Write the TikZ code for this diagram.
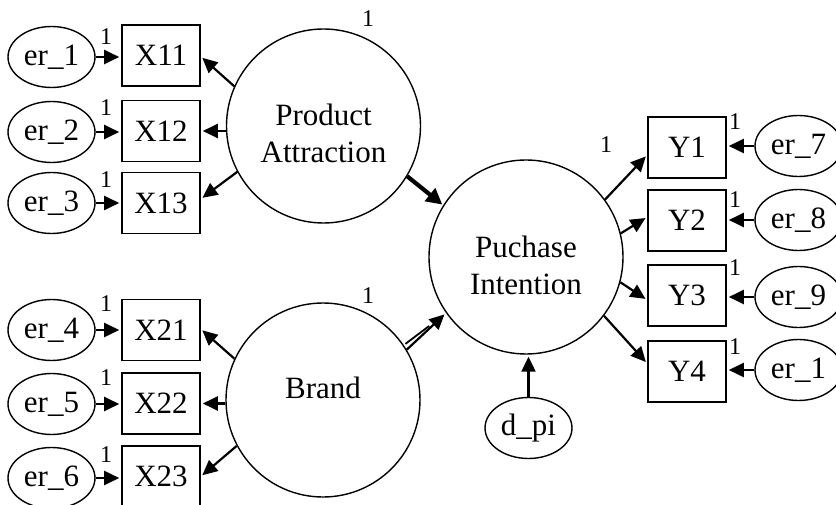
\documentclass[tikz,border=0pt]{standalone}
\usepackage{fontspec}
\setmainfont{Liberation Serif}
\usetikzlibrary{arrows.meta,calc,shapes.geometric}
\tikzset{
  obs/.style={draw,line width=1.6pt,minimum width=78pt,minimum height=61pt,inner sep=0pt,font=\fontsize{31}{37}\selectfont},
  err/.style={draw,ellipse,line width=1.4pt,minimum width=87pt,minimum height=61pt,inner sep=0pt,font=\fontsize{31}{37}\selectfont},
  lat/.style={draw,circle,line width=1.4pt,minimum size=194pt,inner sep=0pt},
  lattext/.style={inner sep=0pt,align=center,font=\fontsize{31}{37}\selectfont},
  one/.style={inner sep=0pt,font=\fontsize{24}{24}\selectfont},
  arr/.style={line width=2.2pt,-{Triangle[length=15pt,width=14pt]},shorten >=2pt},
  thick arr/.style={line width=4.2pt,-{Triangle[length=16pt,width=16pt]},shorten >=1pt},
}
\begin{document}
\begin{tikzpicture}[x=1pt,y=-1pt]
\useasboundingbox (0,0) rectangle (836,505);
% latent variables
\node[lat] (PA) at (323.5,126) {};
\node[lattext] (PAt) at ($(PA)+(0,7)$) {Product\\Attraction};
\node[lat] (BR) at (323,400) {};
\node[lattext] (BRt) at ($(BR)+(0,-12)$) {Brand};
\node[lat] (PI) at (526,257) {};
\node[lattext] (PIt) at ($(PI)+(0,8)$) {Puchase\\Intention};
% indicators left
\node[obs] (X11) at (161,55.5) {X11};
\node[obs] (X12) at (161,131) {X12};
\node[obs] (X13) at (161,203) {X13};
\node[obs] (X21) at (161,330) {X21};
\node[obs] (X22) at (161,403.5) {X22};
\node[obs] (X23) at (161,476.5) {X23};
\node[err] (e1) at (51.5,57) {er\_1};
\node[err] (e2) at (51.5,132) {er\_2};
\node[err] (e3) at (51.5,203) {er\_3};
\node[err] (e4) at (51.5,330) {er\_4};
\node[err] (e5) at (51.5,404) {er\_5};
\node[err] (e6) at (51.5,478) {er\_6};
% indicators right
\node[obs] (Y1) at (687,147.5) {Y1};
\node[obs] (Y2) at (687,220.5) {Y2};
\node[obs] (Y3) at (687,295.5) {Y3};
\node[obs] (Y4) at (687,371.5) {Y4};
\node[err] (e7) at (798.5,146) {er\_7};
\node[err] (e8) at (798.5,220) {er\_8};
\node[err] (e9) at (798.5,297) {er\_9};
\node[err] (e10) at (798.5,370) {er\_1};
\node[err] (dpi) at (528.5,428) {d\_pi};
% error arrows left
\foreach \e/\x in {e1/X11,e2/X12,e3/X13,e4/X21,e5/X22,e6/X23}
  \draw[arr] (\e.east) -- (\e.east -| \x.west);
% error arrows right
\foreach \e/\y in {e7/Y1,e8/Y2,e9/Y3,e10/Y4}
  \draw[arr] (\e.west) -- (\e.west -| \y.east);
% loadings
\draw[arr] (PA.156) -- ($(X11.east)+(0,1)$);
\draw[arr] (X12.east -| PA.west) -- (X12.east);
\draw[arr] (PA.208) -- ($(X13.east)+(0,-4)$);
\draw[arr] (BR.155) -- ($(X21.east)+(0,-1)$);
\draw[arr] (X22.east -| BR.west) -- (X22.east);
\draw[arr] (BR.208) -- ($(X23.east)+(0,0)$);
\draw[arr] (PI.36) -- ($(Y1.west)+(0,7.5)$);
\draw[arr] (PI.14) -- ($(Y2.west)+(0,-3.5)$);
\draw[arr] (PI.-15) -- ($(Y3.west)+(0,4.5)$);
\draw[arr] (PI.-37) -- ($(Y4.west)+(0,-8)$);
% structural paths
\draw[thick arr] (PA.-31) -- (PI.148);
\coordinate (bt) at (PI.215);
\draw[line width=1.8pt] ($(BR.34)+(1.5,-1.5)$) -- ($(BR.34)!0.6!(bt)$);
\draw[arr] (BR.31) -- (bt);
\draw[arr] (dpi.north) -- (dpi.north |- PI.south);
% fixed-parameter labels
\node[one] (l1) at (106,37) {1};
\node[one] (l2) at (106,108) {1};
\node[one] (l3) at (106,180) {1};
\node[one] (l4) at (106,304) {1};
\node[one] (l5) at (106,378) {1};
\node[one] (l6) at (106,455) {1};
\node[one] (l7) at (735,122) {1};
\node[one] (l8) at (735,200) {1};
\node[one] (l9) at (735,268) {1};
\node[one] (l10) at (735,347) {1};
\node[one] (lpa) at (368,19) {1};
\node[one] (lbr) at (368,296) {1};
\node[one] (lpi) at (606,145) {1};
\end{tikzpicture}
\end{document}
